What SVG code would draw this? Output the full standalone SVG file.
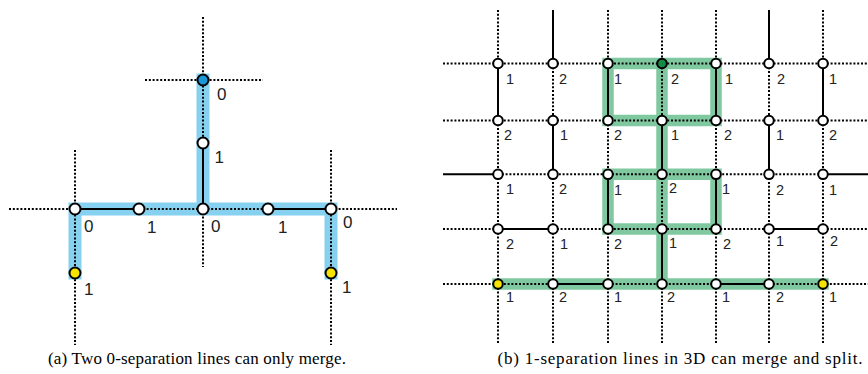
<svg xmlns="http://www.w3.org/2000/svg" width="868" height="374" viewBox="0 0 868 374">
<style>
.dot{stroke:#000;stroke-width:2;stroke-dasharray:2 1.8;fill:none}
.sol{stroke:#000;stroke-width:2;fill:none}
.hb{stroke:#86d0f0;stroke-width:13;fill:none;stroke-linejoin:miter;stroke-linecap:square}
.hg{stroke:#80c9a0;stroke-width:11.5;fill:none;stroke-linejoin:miter;stroke-linecap:square}
.n circle{stroke:#000;stroke-width:2}
.w{fill:#fff}
.lbl{font-family:"Liberation Sans",Arial,sans-serif;fill:#222}
.la{font-size:17px}
.lr{font-size:14.5px}
.cap{font-family:"Liberation Serif","Times New Roman",serif;font-size:17px;fill:#000;text-anchor:middle}
</style>
<rect width="868" height="374" fill="#fff"/>

<g id="highlights">
<path class="hb" d="M75,273 V209 H331 V273 M203,80 V209"/>
<path class="hg" d="M608,63.5 H716 V120.5 H608 Z M662,63.5 V229 M608,174.3 H716 V229 H608 Z M662,229 V284 M498,284 H823"/>
</g>

<g id="connectors">
<line class="dot" x1="203" y1="17" x2="203" y2="143"/>
<line class="dot" x1="203" y1="209" x2="203" y2="267"/>
<line class="dot" x1="145" y1="80" x2="263" y2="80"/>
<line class="dot" x1="9" y1="209" x2="75" y2="209"/>
<line class="dot" x1="139" y1="209" x2="268" y2="209"/>
<line class="dot" x1="331" y1="209" x2="397" y2="209"/>
<line class="dot" x1="75" y1="150" x2="75" y2="345"/>
<line class="dot" x1="331" y1="150" x2="331" y2="345"/>
<line class="sol" x1="75" y1="209" x2="139" y2="209"/>
<line class="sol" x1="268" y1="209" x2="331" y2="209"/>
<line class="sol" x1="203" y1="143" x2="203" y2="209"/>

<line class="dot" x1="498" y1="10" x2="498" y2="63.5"/>
<line class="sol" x1="553" y1="10" x2="553" y2="63.5"/>
<line class="dot" x1="608" y1="10" x2="608" y2="63.5"/>
<line class="dot" x1="662" y1="10" x2="662" y2="63.5"/>
<line class="dot" x1="716" y1="10" x2="716" y2="63.5"/>
<line class="sol" x1="769" y1="10" x2="769" y2="63.5"/>
<line class="dot" x1="823" y1="10" x2="823" y2="63.5"/>
<line class="dot" x1="443" y1="63.5" x2="868" y2="63.5"/>
<line class="sol" x1="498" y1="63.5" x2="498" y2="120.5"/>
<line class="dot" x1="553" y1="63.5" x2="553" y2="120.5"/>
<line class="sol" x1="608" y1="63.5" x2="608" y2="120.5"/>
<line class="dot" x1="662" y1="63.5" x2="662" y2="120.5"/>
<line class="sol" x1="716" y1="63.5" x2="716" y2="120.5"/>
<line class="dot" x1="769" y1="63.5" x2="769" y2="120.5"/>
<line class="sol" x1="823" y1="63.5" x2="823" y2="120.5"/>
<line class="dot" x1="443" y1="120.5" x2="868" y2="120.5"/>
<line class="dot" x1="498" y1="120.5" x2="498" y2="174.3"/>
<line class="sol" x1="553" y1="120.5" x2="553" y2="174.3"/>
<line class="dot" x1="608" y1="120.5" x2="608" y2="174.3"/>
<line class="sol" x1="662" y1="120.5" x2="662" y2="174.3"/>
<line class="dot" x1="716" y1="120.5" x2="716" y2="174.3"/>
<line class="sol" x1="769" y1="120.5" x2="769" y2="174.3"/>
<line class="dot" x1="823" y1="120.5" x2="823" y2="174.3"/>
<line class="sol" x1="443" y1="174.3" x2="498" y2="174.3"/>
<line class="dot" x1="498" y1="174.3" x2="823" y2="174.3"/>
<line class="sol" x1="823" y1="174.3" x2="868" y2="174.3"/>
<line class="dot" x1="498" y1="174.3" x2="498" y2="229"/>
<line class="dot" x1="553" y1="174.3" x2="553" y2="229"/>
<line class="sol" x1="608" y1="174.3" x2="608" y2="229"/>
<line class="dot" x1="662" y1="174.3" x2="662" y2="229"/>
<line class="sol" x1="716" y1="174.3" x2="716" y2="229"/>
<line class="dot" x1="769" y1="174.3" x2="769" y2="229"/>
<line class="dot" x1="823" y1="174.3" x2="823" y2="229"/>
<line class="dot" x1="443" y1="229" x2="498" y2="229"/>
<line class="sol" x1="498" y1="229" x2="553" y2="229"/>
<line class="dot" x1="553" y1="229" x2="769" y2="229"/>
<line class="sol" x1="769" y1="229" x2="823" y2="229"/>
<line class="dot" x1="823" y1="229" x2="868" y2="229"/>
<line class="dot" x1="498" y1="229" x2="498" y2="284"/>
<line class="dot" x1="553" y1="229" x2="553" y2="284"/>
<line class="dot" x1="608" y1="229" x2="608" y2="284"/>
<line class="sol" x1="662" y1="229" x2="662" y2="284"/>
<line class="dot" x1="716" y1="229" x2="716" y2="284"/>
<line class="dot" x1="769" y1="229" x2="769" y2="284"/>
<line class="dot" x1="823" y1="229" x2="823" y2="284"/>
<line class="dot" x1="443" y1="284" x2="553" y2="284"/>
<line class="sol" x1="553" y1="284" x2="608" y2="284"/>
<line class="dot" x1="608" y1="284" x2="716" y2="284"/>
<line class="sol" x1="716" y1="284" x2="769" y2="284"/>
<line class="dot" x1="769" y1="284" x2="868" y2="284"/>
<line class="dot" x1="498" y1="284" x2="498" y2="343"/>
<line class="dot" x1="553" y1="284" x2="553" y2="343"/>
<line class="dot" x1="608" y1="284" x2="608" y2="343"/>
<line class="dot" x1="662" y1="284" x2="662" y2="343"/>
<line class="dot" x1="716" y1="284" x2="716" y2="343"/>
<line class="dot" x1="769" y1="284" x2="769" y2="343"/>
<line class="dot" x1="823" y1="284" x2="823" y2="343"/>
</g>

<g id="a-top" class="n"><circle cx="203" cy="80" r="5.5" fill="#1a97d6"/><text class="lbl la" x="217" y="100">0</text></g>
<g id="a-mid" class="n"><circle class="w" cx="203" cy="143" r="5.5"/><text class="lbl la" x="214.5" y="163">1</text></g>
<g id="a-r1" class="n"><circle class="w" cx="75" cy="209" r="5.5"/><text class="lbl la" x="84" y="232">0</text></g>
<g id="a-r2" class="n"><circle class="w" cx="139" cy="209" r="5.5"/><text class="lbl la" x="147" y="232.5">1</text></g>
<g id="a-r3" class="n"><circle class="w" cx="203" cy="209" r="5.5"/><text class="lbl la" x="211" y="232">0</text></g>
<g id="a-r4" class="n"><circle class="w" cx="268" cy="209" r="5.5"/><text class="lbl la" x="278" y="232.5">1</text></g>
<g id="a-r5" class="n"><circle class="w" cx="331" cy="209" r="5.5"/><text class="lbl la" x="343" y="228">0</text></g>
<g id="a-y1" class="n"><circle cx="75" cy="273" r="5.5" fill="#f5e400"/><text class="lbl la" x="84" y="295">1</text></g>
<g id="a-y2" class="n"><circle cx="331" cy="273" r="5.5" fill="#f5e400"/><text class="lbl la" x="342" y="293">1</text></g>

<g id="b-1-1" class="n"><circle class="w" cx="498" cy="63.5" r="4.8"/><text class="lbl lr" x="506" y="84">1</text></g>
<g id="b-1-2" class="n"><circle class="w" cx="553" cy="63.5" r="4.8"/><text class="lbl lr" x="559" y="84">2</text></g>
<g id="b-1-3" class="n"><circle class="w" cx="608" cy="63.5" r="4.8"/><text class="lbl lr" x="614" y="84">1</text></g>
<g id="b-1-4" class="n"><circle cx="662" cy="63.5" r="4.8" fill="#138a45"/><text class="lbl lr" x="671" y="84">2</text></g>
<g id="b-1-5" class="n"><circle class="w" cx="716" cy="63.5" r="4.8"/><text class="lbl lr" x="725" y="84">1</text></g>
<g id="b-1-6" class="n"><circle class="w" cx="769" cy="63.5" r="4.8"/><text class="lbl lr" x="777" y="84">2</text></g>
<g id="b-1-7" class="n"><circle class="w" cx="823" cy="63.5" r="4.8"/><text class="lbl lr" x="829" y="84">1</text></g>

<g id="b-2-1" class="n"><circle class="w" cx="498" cy="120.5" r="4.8"/><text class="lbl lr" x="504" y="140">2</text></g>
<g id="b-2-2" class="n"><circle class="w" cx="553" cy="120.5" r="4.8"/><text class="lbl lr" x="560" y="140">1</text></g>
<g id="b-2-3" class="n"><circle class="w" cx="608" cy="120.5" r="4.8"/><text class="lbl lr" x="614" y="140">2</text></g>
<g id="b-2-4" class="n"><circle class="w" cx="662" cy="120.5" r="4.8"/><text class="lbl lr" x="671" y="140">1</text></g>
<g id="b-2-5" class="n"><circle class="w" cx="716" cy="120.5" r="4.8"/><text class="lbl lr" x="724" y="140">2</text></g>
<g id="b-2-6" class="n"><circle class="w" cx="769" cy="120.5" r="4.8"/><text class="lbl lr" x="776" y="140">1</text></g>
<g id="b-2-7" class="n"><circle class="w" cx="823" cy="120.5" r="4.8"/><text class="lbl lr" x="829" y="140">2</text></g>

<g id="b-3-1" class="n"><circle class="w" cx="498" cy="174.3" r="4.8"/><text class="lbl lr" x="506" y="194">1</text></g>
<g id="b-3-2" class="n"><circle class="w" cx="553" cy="174.3" r="4.8"/><text class="lbl lr" x="559" y="194">2</text></g>
<g id="b-3-3" class="n"><circle class="w" cx="608" cy="174.3" r="4.8"/><text class="lbl lr" x="614" y="195">1</text></g>
<g id="b-3-4" class="n"><circle class="w" cx="662" cy="174.3" r="4.8"/><text class="lbl lr" x="669" y="193">2</text></g>
<g id="b-3-5" class="n"><circle class="w" cx="716" cy="174.3" r="4.8"/><text class="lbl lr" x="722" y="194">1</text></g>
<g id="b-3-6" class="n"><circle class="w" cx="769" cy="174.3" r="4.8"/><text class="lbl lr" x="776" y="195">2</text></g>
<g id="b-3-7" class="n"><circle class="w" cx="823" cy="174.3" r="4.8"/><text class="lbl lr" x="829" y="195">1</text></g>

<g id="b-4-1" class="n"><circle class="w" cx="498" cy="229" r="4.8"/><text class="lbl lr" x="506" y="249">2</text></g>
<g id="b-4-2" class="n"><circle class="w" cx="553" cy="229" r="4.8"/><text class="lbl lr" x="560" y="249">1</text></g>
<g id="b-4-3" class="n"><circle class="w" cx="608" cy="229" r="4.8"/><text class="lbl lr" x="614" y="249">2</text></g>
<g id="b-4-4" class="n"><circle class="w" cx="662" cy="229" r="4.8"/><text class="lbl lr" x="669" y="248">1</text></g>
<g id="b-4-5" class="n"><circle class="w" cx="716" cy="229" r="4.8"/><text class="lbl lr" x="723" y="249">2</text></g>
<g id="b-4-6" class="n"><circle class="w" cx="769" cy="229" r="4.8"/><text class="lbl lr" x="776" y="246">1</text></g>
<g id="b-4-7" class="n"><circle class="w" cx="823" cy="229" r="4.8"/><text class="lbl lr" x="830" y="246">2</text></g>

<g id="b-5-1" class="n"><circle cx="498" cy="284" r="4.8" fill="#f5e400"/><text class="lbl lr" x="506" y="302">1</text></g>
<g id="b-5-2" class="n"><circle class="w" cx="553" cy="284" r="4.8"/><text class="lbl lr" x="559" y="302">2</text></g>
<g id="b-5-3" class="n"><circle class="w" cx="608" cy="284" r="4.8"/><text class="lbl lr" x="614" y="302">1</text></g>
<g id="b-5-4" class="n"><circle class="w" cx="662" cy="284" r="4.8"/><text class="lbl lr" x="667" y="302">2</text></g>
<g id="b-5-5" class="n"><circle class="w" cx="716" cy="284" r="4.8"/><text class="lbl lr" x="722" y="302">1</text></g>
<g id="b-5-6" class="n"><circle class="w" cx="769" cy="284" r="4.8"/><text class="lbl lr" x="776" y="302">2</text></g>
<g id="b-5-7" class="n"><circle cx="823" cy="284" r="4.8" fill="#f5e400"/><text class="lbl lr" x="829" y="302">1</text></g>

<g id="captions">
<text class="cap" x="197" y="364" textLength="298">(a) Two 0-separation lines can only merge.</text>
<text class="cap" x="680" y="364" textLength="365">(b) 1-separation lines in 3D can merge and split.</text>
</g>
</svg>
